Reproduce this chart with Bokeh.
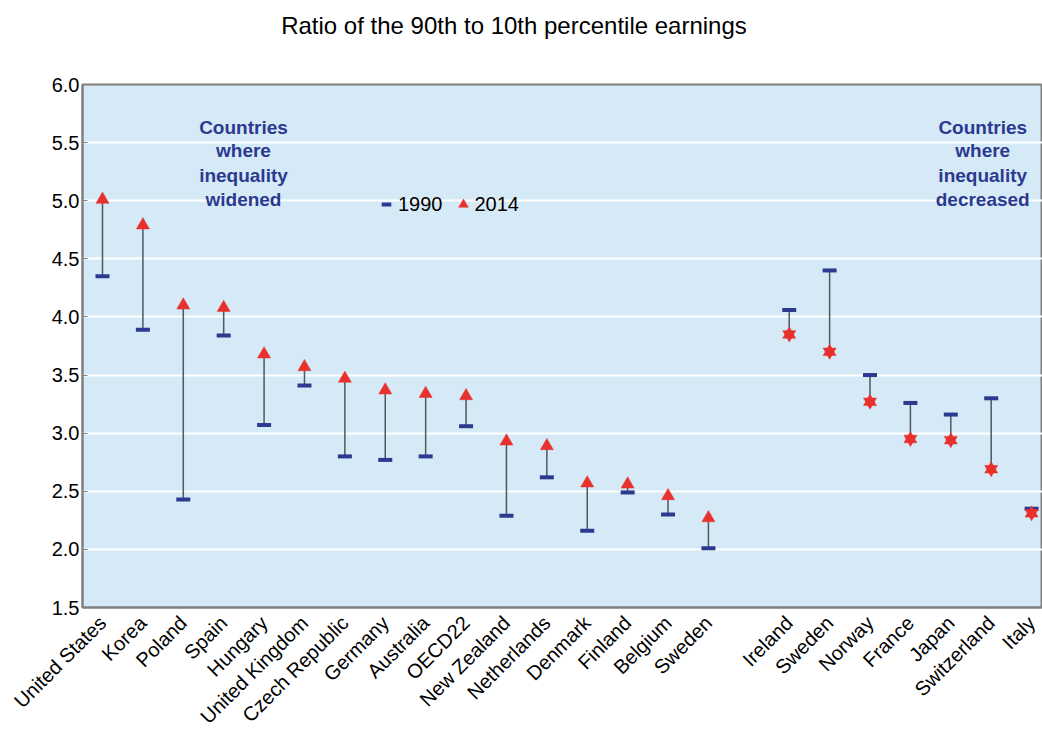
from bokeh.plotting import figure
from bokeh.layouts import column
from bokeh.models import Range1d, FixedTicker, Label, Legend, LegendItem, NumeralTickFormatter, Div
from bokeh.embed import file_html
from bokeh.resources import INLINE

# ---- data ----
countries_widened = ["United States", "Korea", "Poland", "Spain", "Hungary", "United Kingdom",
                     "Czech Republic", "Germany", "Australia", "OECD22", "New Zealand",
                     "Netherlands", "Denmark", "Finland", "Belgium", "Sweden"]
widened_1990 = [4.35, 3.89, 2.43, 3.84, 3.07, 3.41, 2.80, 2.77, 2.80, 3.06, 2.29, 2.62, 2.16, 2.49, 2.30, 2.01]
widened_2014 = [5.01, 4.79, 4.10, 4.08, 3.68, 3.57, 3.47, 3.37, 3.34, 3.32, 2.93, 2.89, 2.57, 2.56, 2.46, 2.27]

countries_decreased = ["Ireland", "Sweden", "Norway", "France", "Japan", "Switzerland", "Italy"]
decreased_1990 = [4.06, 4.40, 3.50, 3.26, 3.16, 3.30, 2.35]
decreased_2014 = [3.85, 3.70, 3.27, 2.95, 2.94, 2.69, 2.31]

y_ticks = [1.5, 2.0, 2.5, 3.0, 3.5, 4.0, 4.5, 5.0, 5.5, 6.0]
series_labels = ["1990", "2014"]
title_text = "Ratio of the 90th to 10th percentile earnings"
note_widened = ["Countries", "where", "inequality", "widened"]
note_decreased = ["Countries", "where", "inequality", "decreased"]

# ---- positions (gap slot between the two groups) ----
xw = list(range(len(countries_widened)))
gap = len(countries_widened) + 1
xd = [gap + i for i in range(len(countries_decreased))]

FONT = "Liberation Sans"
NAVY = "#2b3990"
RED = "#e8312c"
BG = "#d5e9f6"

title_div = Div(text=title_text, width=1028, height=52, margin=0,
                styles={"font-family": FONT, "font-size": "24px", "text-align": "center",
                        "line-height": "52px", "color": "black"})

p = figure(width=1042, height=686, output_backend="svg", toolbar_location=None,
           x_range=Range1d(-0.495, 23.27), y_range=Range1d(1.5, 6.0),
           min_border_left=82, min_border_right=0, min_border_top=32, min_border_bottom=131,
           margin=0)

p.background_fill_color = BG
p.border_fill_color = "white"
p.outline_line_color = "#7f7f7f"
p.outline_line_width = 2

# grids
p.xgrid.grid_line_color = None
p.ygrid.grid_line_color = "white"
p.ygrid.grid_line_width = 2
p.ygrid.ticker = FixedTicker(ticks=y_ticks)

# y axis
p.yaxis.ticker = FixedTicker(ticks=y_ticks)
p.yaxis.formatter = NumeralTickFormatter(format="0.0")
p.yaxis.major_label_text_font = FONT
p.yaxis.major_label_text_font_size = "20px"
p.yaxis.major_label_text_color = "black"
p.yaxis.axis_line_color = "#7f7f7f"
p.yaxis.axis_line_width = 2
p.yaxis.major_tick_in = 5
p.yaxis.major_tick_out = 0
p.yaxis.major_tick_line_color = "#7f7f7f"
p.yaxis.minor_tick_line_color = None
p.yaxis.major_label_standoff = 3

# x axis
p.xaxis.ticker = FixedTicker(ticks=xw + xd)
overrides = {}
for x, c in zip(xw, countries_widened):
    overrides[x] = c
for x, c in zip(xd, countries_decreased):
    overrides[x] = c
p.xaxis.major_label_overrides = overrides
p.xaxis.major_label_orientation = 0.785398
p.xaxis.major_label_text_font = FONT
p.xaxis.major_label_text_font_size = "20px"
p.xaxis.major_label_text_color = "black"
p.xaxis.axis_line_color = "#7f7f7f"
p.xaxis.axis_line_width = 2
p.xaxis.major_tick_line_color = None
p.xaxis.minor_tick_line_color = None
p.xaxis.major_label_standoff = 6

# connectors
p.segment(x0=xw, y0=widened_1990, x1=xw, y1=widened_2014, line_color="#50575e", line_width=1.5)
p.segment(x0=xd, y0=decreased_1990, x1=xd, y1=decreased_2014, line_color="#50575e", line_width=1.5)

# 1990 markers
r_dash = p.scatter(x=xw, y=widened_1990, marker="dash", size=14, line_width=4, line_color=NAVY)
p.scatter(x=xd, y=decreased_1990, marker="dash", size=14, line_width=4, line_color=NAVY)

# 2014 markers
r_tri = p.scatter(x=xw, y=widened_2014, marker="triangle", size=13, fill_color=RED, line_color=RED, line_width=0.5)
p.scatter(x=xd, y=decreased_2014, marker="inverted_triangle", size=13, fill_color=RED, line_color=RED, line_width=0.5)
p.scatter(x=xd, y=decreased_2014, marker="triangle", size=13, fill_color=RED, line_color=RED, line_width=0.5)

# legend
legend = Legend(items=[LegendItem(label=series_labels[0], renderers=[r_dash]),
                       LegendItem(label=series_labels[1], renderers=[r_tri])],
                orientation="horizontal", location=(292, 388),
                background_fill_alpha=0, border_line_alpha=0,
                label_text_font=FONT, label_text_font_size="20px", label_text_color="black",
                glyph_width=24, glyph_height=30, label_standoff=0, spacing=8,
                padding=0, margin=0)
p.add_layout(legend, "center")

# annotations
note_y = [5.63, 5.43, 5.22, 5.01]
for txt, yy in zip(note_widened, note_y):
    p.add_layout(Label(x=3.49, y=yy, text=txt, text_align="center", text_baseline="middle",
                       text_font=FONT, text_font_size="19px", text_font_style="bold",
                       text_color=NAVY))
for txt, yy in zip(note_decreased, note_y):
    p.add_layout(Label(x=21.79, y=yy, text=txt, text_align="center", text_baseline="middle",
                       text_font=FONT, text_font_size="19px", text_font_style="bold",
                       text_color=NAVY))

layout = column(title_div, p, spacing=0, margin=0)
open("out.html", "w").write(file_html(layout, INLINE))
